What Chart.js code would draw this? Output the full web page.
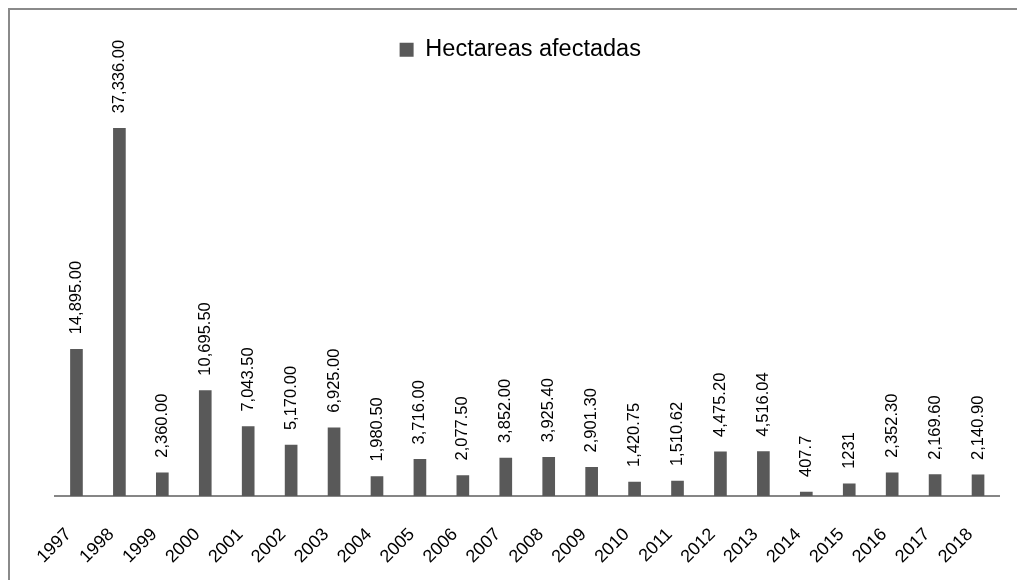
<!DOCTYPE html>
<html>
<head>
<meta charset="utf-8">
<script src="https://cdn.jsdelivr.net/npm/chart.js@4"></script>
<style>
  html, body { margin: 0; padding: 0; background: #fff; }
  #wrap { width: 1017px; height: 580px; position: relative; }
</style>
</head>
<body>
<div id="wrap"><canvas id="grafica"></canvas></div>
<script>
// datos
const anios = ["1997","1998","1999","2000","2001","2002","2003","2004","2005","2006","2007",
  "2008","2009","2010","2011","2012","2013","2014","2015","2016","2017","2018"];
const hectareas = [14895.00, 37336.00, 2360.00, 10695.50, 7043.50, 5170.00, 6925.00, 1980.50,
  3716.00, 2077.50, 3852.00, 3925.40, 2901.30, 1420.75, 1510.62, 4475.20, 4516.04, 407.7,
  1231, 2352.30, 2169.60, 2140.90];
const etiquetas = ["14,895.00","37,336.00","2,360.00","10,695.50","7,043.50","5,170.00","6,925.00",
  "1,980.50","3,716.00","2,077.50","3,852.00","3,925.40","2,901.30","1,420.75","1,510.62",
  "4,475.20","4,516.04","407.7","1231","2,352.30","2,169.60","2,140.90"];

const fuente = "'Liberation Sans', Arial, sans-serif";

// marco gris (solo arriba e izquierda se ven)
const marco = {
  id: "marco",
  beforeDraw(chart) {
    const ctx = chart.ctx;
    ctx.save();
    ctx.strokeStyle = "#8a8a8a";
    ctx.lineWidth = 2;
    ctx.beginPath();
    ctx.moveTo(9, 600);
    ctx.lineTo(9, 9);
    ctx.lineTo(1100, 9);
    ctx.stroke();
    ctx.restore();
  }
};

// etiquetas verticales encima de cada barra
const etiquetasBarras = {
  id: "etiquetasBarras",
  afterDatasetsDraw(chart) {
    const ctx = chart.ctx;
    const meta = chart.getDatasetMeta(0);
    ctx.save();
    ctx.fillStyle = "#000";
    ctx.font = "16.5px " + fuente;
    ctx.textAlign = "left";
    ctx.textBaseline = "middle";
    meta.data.forEach((bar, i) => {
      ctx.save();
      ctx.translate(bar.x, bar.y - 15);
      ctx.rotate(-Math.PI / 2);
      ctx.fillText(etiquetas[i], 0, 0);
      ctx.restore();
    });
    ctx.restore();
  }
};

// altura fija para la leyenda
const altoLeyenda = {
  id: "altoLeyenda",
  beforeInit(chart) {
    const fitOrig = chart.legend.fit;
    chart.legend.fit = function () {
      fitOrig.bind(chart.legend)();
      this.height = 88;
    };
  }
};

const ctx = document.getElementById("grafica").getContext("2d");
new Chart(ctx, {
  type: "bar",
  data: {
    labels: anios,
    datasets: [{
      label: "Hectareas afectadas",
      data: hectareas,
      backgroundColor: "#595959",
      borderWidth: 0,
      barThickness: 12
    }]
  },
  options: {
    responsive: true,
    maintainAspectRatio: false,
    animation: false,
    layout: { padding: { top: 14, left: 41, right: 17.5, bottom: 0 } },
    plugins: {
      legend: {
        position: "top",
        labels: {
          color: "#000",
          font: { family: fuente, size: 23.5 },
          boxWidth: 14,
          boxHeight: 14,
          padding: 24
        }
      },
      tooltip: { enabled: false }
    },
    scales: {
      x: {
        grid: { display: false },
        border: { color: "#868686", width: 2 },
        ticks: {
          color: "#000",
          font: { family: fuente, size: 18 },
          minRotation: 45,
          maxRotation: 45,
          autoSkip: false,
          padding: 20,
          labelOffset: -8
        },
        afterFit(scale) { scale.height = 84; }
      },
      y: {
        min: 0,
        max: 40000,
        grid: { display: false },
        border: { display: false },
        ticks: { display: false },
        afterFit(scale) { scale.width = 14; }
      }
    }
  },
  plugins: [marco, etiquetasBarras, altoLeyenda]
});
</script>
</body>
</html>
